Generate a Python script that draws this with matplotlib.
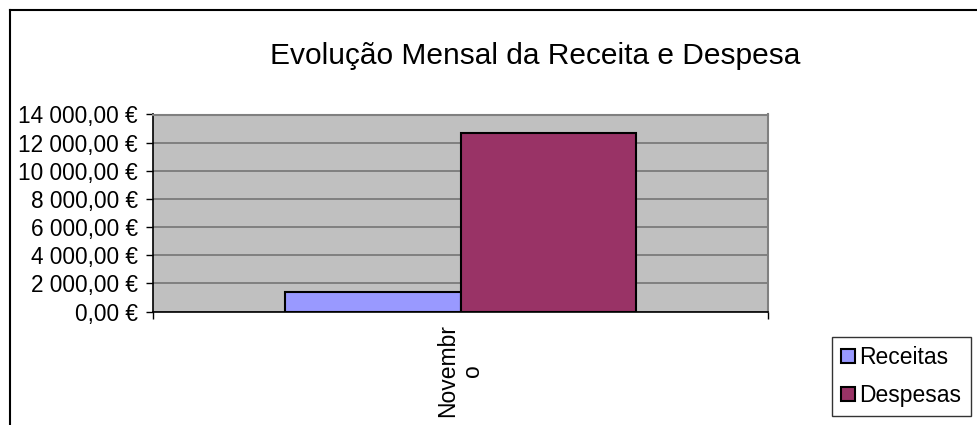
import matplotlib
matplotlib.use("Agg")
import matplotlib.pyplot as plt
from matplotlib.lines import Line2D
from matplotlib.patches import Patch

plt.rcParams['font.family'] = ['Liberation Sans', 'DejaVu Sans']

categories = ["Novembr\no"]
series_names = ["Receitas", "Despesas"]
receitas = [1370]
despesas = [12680]
y_ticks = [0, 2000, 4000, 6000, 8000, 10000, 12000, 14000]
y_tick_labels = ["0,00 €", "2 000,00 €", "4 000,00 €", "6 000,00 €",
                 "8 000,00 €", "10 000,00 €", "12 000,00 €", "14 000,00 €"]
title = "Evolução Mensal da Receita e Despesa"

colors = ["#9999FF", "#993366"]

W, H = 977, 425
fig = plt.figure(figsize=(W / 100, H / 100), dpi=100)

# outer chart border (left and top visible)
fig.add_artist(Line2D([10 / W, 10 / W], [0, 1 - 10 / H], transform=fig.transFigure,
                      color="black", lw=1.5))
fig.add_artist(Line2D([10 / W, 1], [1 - 10 / H, 1 - 10 / H], transform=fig.transFigure,
                      color="black", lw=1.5))

left, right, top, bottom = 153, 768, 114.5, 311.5
ax = fig.add_axes([left / W, 1 - bottom / H, (right - left) / W, (bottom - top) / H])
ax.set_facecolor("#C0C0C0")

bw = 0.286
x = list(range(len(categories)))
ax.bar([xi - bw / 2 for xi in x], receitas, width=bw, color=colors[0],
       edgecolor="black", linewidth=1.5, label=series_names[0], zorder=3)
ax.bar([xi + bw / 2 for xi in x], despesas, width=bw, color=colors[1],
       edgecolor="black", linewidth=1.5, label=series_names[1], zorder=3)

ax.set_xlim(-0.5, len(categories) - 0.5)
ax.set_ylim(0, 14000)
ax.set_yticks(y_ticks)
ax.set_yticklabels(y_tick_labels, fontsize=16.3)
ax.yaxis.grid(True, color="#808080", lw=1.4, zorder=1)
ax.set_axisbelow(True)

ax.set_xticks(x)
ax.set_xticklabels(categories, rotation=90, fontsize=16.5, ha="center",
                   multialignment="center", va="top", linespacing=1.1)
ax.tick_params(axis="x", which="major", length=0, pad=9)
ax.set_xticks([-0.5 + i for i in range(len(categories) + 1)], minor=True)
ax.tick_params(axis="x", which="minor", length=5, width=1, color="black", direction="out")
ax.tick_params(axis="y", length=5, width=1, color="black", direction="out", pad=6)

for s in ["top", "right"]:
    ax.spines[s].set_color("#808080")
    ax.spines[s].set_linewidth(1.5)
for s in ["left", "bottom"]:
    ax.spines[s].set_color("black")
    ax.spines[s].set_linewidth(1.2)

fig.text(535 / W, 1 - 56 / H, title, fontsize=21.5, ha="center", va="center")

handles = [Patch(facecolor=c, edgecolor="black", linewidth=1.5) for c in colors]
leg = fig.legend(handles, series_names, loc="upper left",
                 bbox_to_anchor=(832 / W, 1 - 337 / H), fontsize=16.5,
                 frameon=True, fancybox=False, edgecolor="black",
                 handlelength=0.6, handleheight=0.6, handletextpad=0.2,
                 labelspacing=0.65, borderpad=0.4, borderaxespad=0)
leg.get_frame().set_linewidth(1)

fig.savefig("out.png", dpi=100, facecolor="white")
